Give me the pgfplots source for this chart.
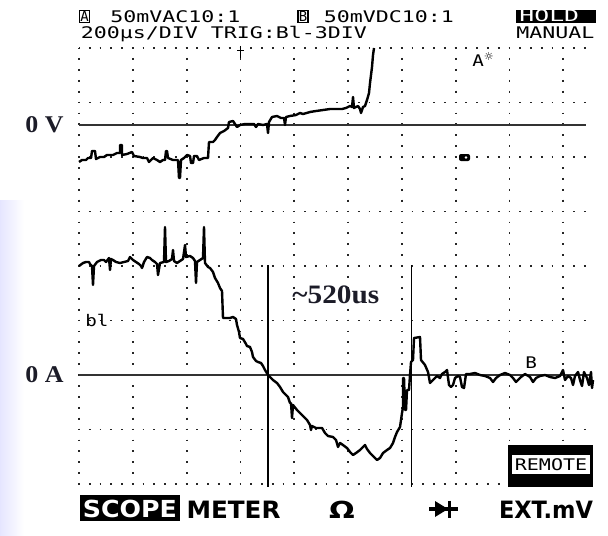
\documentclass[border=0pt]{standalone}
\usepackage{pgfplots}
\pgfplotsset{compat=1.18}
\usepackage{fontspec}
\usepackage{graphicx}
\setmainfont{Liberation Serif}
\newfontfamily\lcd{DejaVu Sans Mono}
\newfontfamily\menufont{DejaVu Sans}
\definecolor{lbl}{RGB}{28,28,40}
\newcommand{\lcdtext}[2][1.35]{\scalebox{#1}[1]{\lcd\fontsize{8}{8}\selectfont #2}}
\begin{document}
\begin{tikzpicture}
\begin{axis}[
  at={(0,0)}, anchor=south west,
  scale only axis, width=304pt, height=267.5pt,
  xmin=0, xmax=608, ymin=0, ymax=535, y dir=reverse,
  hide axis, clip=false,
]
% background
\fill[white] (axis cs:0,0) rectangle (axis cs:608,535);
\shade[left color=blue!10, right color=white] (axis cs:0,200) rectangle (axis cs:24,535);
% dotted grid
\pgfplotsinvokeforeach{0,...,9}{
  \draw[black!85, line width=0.9pt, dash pattern=on 0.9pt off 4.55pt, dash phase=0.45pt]
    (axis cs:{79+#1*53.8},48) -- (axis cs:{79+#1*53.8},485);
}
\pgfplotsinvokeforeach{0,...,8}{
  \draw[black!85, line width=0.9pt, dash pattern=on 0.9pt off 4.48pt, dash phase=0.45pt]
    (axis cs:79,{48+#1*54.5}) -- (axis cs:586,{48+#1*54.5});
}
% zero lines
\draw[black!80, line width=1.3pt] (axis cs:79,125) -- (axis cs:586,125);
\draw[black!80, line width=1.3pt] (axis cs:79,375) -- (axis cs:591,375);
% cursors
\draw[black, line width=0.8pt] (axis cs:268,265) -- (axis cs:268,487);
\draw[black, line width=0.8pt] (axis cs:411.5,265) -- (axis cs:411.5,487);
% trigger marker
\draw[black, line width=0.7pt] (axis cs:240.4,46) -- (axis cs:240.4,58);
\draw[black, line width=0.7pt] (axis cs:237,50.5) -- (axis cs:244,50.5);
% channel A trace
\addplot[black, line width=1.2pt, line join=round] coordinates {
(79,162) (82,160) (86,160) (88,158) (91,158) (92,151) (95,151) (96,159) (100,157) (104,157)
(107,155) (113,155) (117,153) (120,153) (120,145) (122,145) (122,155) (127,154) (132,152) (134,156)
(140,157) (143,158) (147,158) (149,162) (153,158) (157,160) (160,162) (163,160) (165,160) (166,151)
(167,151) (168,158) (173,160) (177,160) (178,160) (179,178) (180,178) (181,160) (184,158) (187,155)
(190,156) (191,163) (193,163) (194,156) (197,156) (199,160) (204,158) (208,158) (209,142) (213,142)
(215,140) (217,137) (220,133) (224,131) (228,128) (229,122) (233,121) (235,124) (237,127) (240,125)
(245,124) (250,124) (254,124) (256,127) (258,124) (263,125) (267,124) (268,133) (269,122) (272,117)
(277,116) (281,118) (284,118) (285,125) (286,117) (290,116) (296,115) (300,113) (303,114) (310,112)
(316,111) (323,110) (330,109) (336,109) (342,109) (346,108) (350,106) (352,107) (353,97) (354,108)
(356,107) (358,106) (360,109) (361,113) (363,107) (365,106) (367,100) (369,93) (370,83) (372,67)
(373,55) (374,48)
};
% channel B trace
\addplot[black, line width=1.2pt, line join=round] coordinates {
(79,266) (83,263) (86,262) (89,262) (90,264) (92,266) (93,285) (94,266) (97,262) (101,260)
(104,260) (106,262) (109,258) (110,270) (111,259) (113,260) (116,262) (120,263) (124,262) (128,261)
(130,257) (133,260) (136,262) (139,264) (141,266) (142,268) (144,262) (147,257) (150,258) (152,260)
(155,262) (157,264) (158,275) (160,263) (164,262) (165,227) (166,262) (169,261) (172,259) (173,250)
(174,261) (177,263) (180,261) (183,259) (185,245) (186,257) (190,256) (193,258) (195,261) (196,283)
(197,262) (200,260) (203,258) (204,227) (205,263) (208,267) (210,268) (213,272) (215,278) (218,283)
(220,288) (222,291) (223,318) (227,318) (230,318) (233,317) (236,319) (237,325) (239,332) (240,338)
(243,339) (246,344) (247,346) (250,347) (252,352) (253,357) (256,361) (258,362) (261,363) (263,366)
(265,370) (268,375) (270,377) (273,380) (277,383) (280,387) (283,392) (286,395) (288,397) (290,403)
(291,403) (292,418) (293,405) (297,410) (302,415) (307,420) (310,425) (311,430) (312,426) (316,428)
(319,428) (322,428) (325,433) (328,436) (333,437) (336,440) (338,447) (340,443) (343,445) (347,448)
(350,452) (353,455) (356,453) (360,450) (365,445) (367,449) (370,453) (373,456) (377,460) (380,458)
(383,453) (387,450) (390,448) (393,443) (395,437) (397,432) (400,427) (402,413) (403,407) (403,378)
(404,378) (405,410) (406,410) (407,390) (409,390) (410,375) (411,362) (413,360) (414,338) (420,337)
(421,360) (425,365) (428,372) (430,383) (433,380) (437,376) (440,378) (442,374) (445,372) (447,370)
(449,385) (451,387) (453,385) (455,378) (458,376) (460,377) (462,387) (464,388) (466,374) (470,374)
(475,373) (480,375) (485,376) (490,378) (493,382) (496,378) (500,375) (505,373) (510,375) (513,378)
(516,382) (518,380) (521,377) (525,374) (530,377) (533,382) (536,378) (540,376) (545,375) (550,377)
(555,378) (560,376) (563,370) (565,380) (568,376) (571,378) (573,385) (575,376) (578,372) (580,380)
(582,386) (584,372) (587,378) (589,385) (591,372) (592,388) (593,380)
};
% header
\node[draw, line width=0.6pt, inner sep=0.3pt, minimum width=5pt, minimum height=6pt] at (axis cs:84.5,16.5) {\lcd\fontsize{7}{7}\selectfont A};
\node[anchor=base west, inner sep=0] at (axis cs:110,22.5) {\lcdtext{50mVAC10:1}};
\node[draw, line width=0.6pt, inner sep=0.3pt, minimum width=5pt, minimum height=6pt] at (axis cs:303,16.5) {\lcd\fontsize{7}{7}\selectfont B};
\node[anchor=base west, inner sep=0] at (axis cs:323.5,22.5) {\lcdtext{50mVDC10:1}};
\fill[black] (axis cs:516,10.5) rectangle (axis cs:596,23.5);
\node[anchor=base west, inner sep=0, text=white] at (axis cs:519,22) {\lcdtext[1.55]{HOLD}};
\node[anchor=base west, inner sep=0] at (axis cs:80.5,38.5) {\lcdtext{200μs/DIV TRIG:Bl-3DIV}};
\node[anchor=base west, inner sep=0] at (axis cs:516,38.5) {\lcdtext{MANUAL}};
% in-plot small labels
\node[anchor=base west, inner sep=0] at (axis cs:85,326) {\lcdtext[1.2]{bl}};
\node[anchor=base west, inner sep=0] at (axis cs:525,368) {\lcdtext[1.2]{B}};
\node[anchor=base west, inner sep=0] at (axis cs:472,67) {\lcdtext[1.2]{A}\raisebox{3pt}{\menufont\fontsize{5.5}{5.5}\selectfont ☼}};
\fill[black, rounded corners=1pt] (axis cs:459,154) rectangle (axis cs:470,161);
\fill[white] (axis cs:466,157.5) circle (0.7pt);
% REMOTE box
\fill[black] (axis cs:508,445) rectangle (axis cs:593,487);
\fill[white] (axis cs:512,455) rectangle (axis cs:590,474);
\node[inner sep=0] at (axis cs:551,464.5) {\lcdtext[1.25]{REMOTE}};
% annotations
\node[anchor=west, inner sep=0, text=lbl] at (axis cs:25,125) {\scalebox{1.08}[1]{\fontsize{12}{12}\selectfont\bfseries 0 V}};
\node[anchor=west, inner sep=0, text=lbl] at (axis cs:25,375) {\scalebox{1.08}[1]{\fontsize{12}{12}\selectfont\bfseries 0 A}};
\node[anchor=west, inner sep=0, text=lbl] at (axis cs:292,295) {\scalebox{1.1}[1]{\fontsize{13.3}{13.3}\selectfont\bfseries \textasciitilde 520us}};
% menu bar
\fill[black] (axis cs:80,495) rectangle (axis cs:180,521);
\node[inner sep=0, text=white] at (axis cs:130,509) {\resizebox{47pt}{8.7pt}{\menufont\bfseries SCOPE}};
\node[inner sep=0] at (axis cs:233.5,509.5) {\resizebox{47pt}{8.7pt}{\menufont\bfseries METER}};
\node[inner sep=0] at (axis cs:342,509.5) {\resizebox{12.8pt}{8.7pt}{\menufont\bfseries Ω}};
\draw[black, line width=1.6pt] (axis cs:429,509) -- (axis cs:458,509);
\fill[black] (axis cs:435,501) -- (axis cs:448,509) -- (axis cs:435,517) -- cycle;
\draw[black, line width=1.8pt] (axis cs:449.5,500.5) -- (axis cs:449.5,517.5);
\node[inner sep=0] at (axis cs:546,509.5) {\resizebox{47pt}{8.7pt}{\menufont\bfseries EXT.mV}};
\end{axis}
\end{tikzpicture}
\end{document}
